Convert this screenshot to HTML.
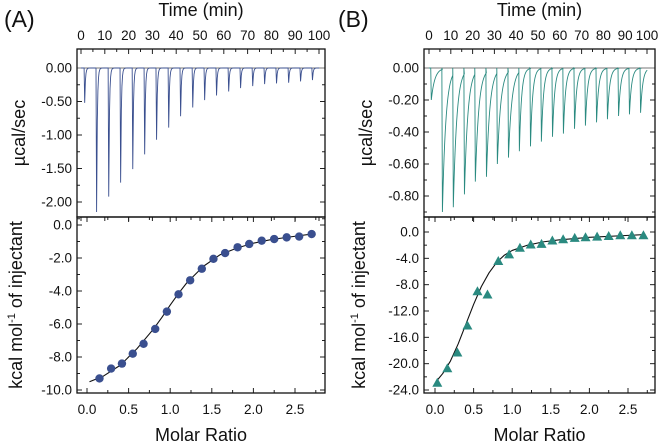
<!DOCTYPE html>
<html><head><meta charset="utf-8">
<style>
html,body{margin:0;padding:0;background:#fff;width:661px;height:447px;overflow:hidden}
svg text{font-family:"Liberation Sans",sans-serif;fill:#111}
</style></head>
<body>
<svg id="c" width="661" height="447" viewBox="0 0 661 447" xmlns="http://www.w3.org/2000/svg"></svg>
<script>
// ----- Data -----
const timeTicks = [0,10,20,30,40,50,60,70,80,90,100];
const molarTicks = [0,0.5,1.0,1.5,2.0,2.5];
const injTimesA = [1.3,6.3,11.4,16.4,21.5,26.5,31.5,36.6,41.6,46.7,51.7,56.7,61.8,66.8,71.9,76.9,81.9,87.0,92.0,97.0];
const peakDepthA = [-0.52,-2.15,-1.92,-1.71,-1.51,-1.29,-1.07,-0.89,-0.72,-0.59,-0.48,-0.41,-0.35,-0.30,-0.27,-0.24,-0.23,-0.22,-0.20,-0.18];
const injTimesB = [0.8,5.9,10.9,16.0,21.0,26.1,31.1,36.2,41.2,46.3,51.3,56.4,61.4,66.5,71.5,76.6,81.6,86.7,91.7,96.8];
const peakDepthB = [-0.20,-0.90,-0.87,-0.79,-0.71,-0.68,-0.60,-0.56,-0.52,-0.49,-0.46,-0.43,-0.41,-0.38,-0.36,-0.34,-0.32,-0.30,-0.29,-0.28];
const ratioA = [0.15,0.29,0.42,0.55,0.68,0.82,0.96,1.10,1.24,1.38,1.52,1.66,1.81,1.95,2.10,2.25,2.40,2.55,2.70];
const heatA = [-9.3,-8.7,-8.4,-7.8,-7.2,-6.3,-5.25,-4.2,-3.35,-2.65,-2.05,-1.7,-1.35,-1.15,-0.95,-0.85,-0.75,-0.7,-0.55];
const fitXA = [0.03,0.2,0.4,0.6,0.8,0.9,1.0,1.1,1.2,1.4,1.6,1.8,2.0,2.2,2.4,2.7];
const fitYA = [-9.5,-9.15,-8.5,-7.5,-6.3,-5.6,-4.85,-4.15,-3.5,-2.5,-1.8,-1.4,-1.1,-0.9,-0.75,-0.55];
const ratioB = [0.03,0.16,0.29,0.42,0.55,0.68,0.82,0.96,1.10,1.24,1.38,1.52,1.66,1.81,1.95,2.10,2.25,2.40,2.55,2.70];
const heatB = [-22.9,-20.7,-18.3,-14.2,-9.0,-9.5,-4.4,-3.4,-2.4,-1.9,-1.8,-1.3,-1.1,-0.9,-0.8,-0.7,-0.6,-0.5,-0.5,-0.5];
const fitXB = [0.03,0.1,0.2,0.3,0.4,0.5,0.6,0.7,0.8,0.9,1.0,1.2,1.4,1.6,2.0,2.7];
const fitYB = [-22.5,-21.5,-19.6,-17.0,-14.0,-11.0,-8.3,-6.2,-4.6,-3.5,-2.8,-2.0,-1.5,-1.2,-0.8,-0.4];
const upTicksA = [0,-0.5,-1.0,-1.5,-2.0];
const upTicksB = [0,-0.2,-0.4,-0.6,-0.8];
const loTicksA = [0,-2,-4,-6,-8,-10];
const loTicksB = [0,-4,-8,-12,-16,-20,-24];

const svg = document.getElementById('c');
const NS = 'http://www.w3.org/2000/svg';
function mk(tag, attrs, parent){const e=document.createElementNS(NS,tag);for(const k in attrs)e.setAttribute(k,attrs[k]);(parent||svg).appendChild(e);return e;}
function lin(d0,d1,r0,r1){return v=>r0+(v-d0)*(r1-r0)/(d1-d0);}

function panel(P){
  const g = mk('g',{});
  
  
  const lab = mk('text',{x:P.labX,y:27,'font-size':23},g); lab.textContent='('+P.id.toUpperCase()+')';
   
  const tt = mk('text',{x:(P.L+P.R)/2,y:16,'font-size':18,'text-anchor':'middle'},g); tt.textContent='Time (min)';
   
  const tx = lin(0,100,P.t0,P.t100);
  const yu = lin(0,P.uMin,68,P.uMinPx);
  timeTicks.forEach((t,i)=>{
    const x=tx(t);
    const tl = mk('text',{x:x,y:40,'font-size':13.5,'text-anchor':'middle'},g); tl.textContent=t;
     
    mk('line',{x1:x,x2:x,y1:P.T,y2:P.T+5,stroke:'#222'},g);
    if(i<timeTicks.length-1){const xm=tx(t+5);mk('line',{x1:xm,x2:xm,y1:P.T,y2:P.T+3,stroke:'#222'},g);}
    mk('line',{x1:x,x2:x,y1:P.M,y2:P.M+4,stroke:'#222'},g);
  });
  P.upTicks.forEach((v,i)=>{
    const y=yu(v);
    const l=mk('text',{x:P.L-5,y:y+4.5,'font-size':13.5,'text-anchor':'end'},g); l.textContent=v.toFixed(2);
     
    mk('line',{x1:P.L,x2:P.L+5,y1:y,y2:y,stroke:'#222'},g);
    mk('line',{x1:P.R,x2:P.R-5,y1:y,y2:y,stroke:'#222'},g);
    const ym=yu(v+(P.upTicks[1]-P.upTicks[0])/2);
    mk('line',{x1:P.L,x2:P.L+3,y1:ym,y2:ym,stroke:'#222'},g);
    mk('line',{x1:P.R,x2:P.R-3,y1:ym,y2:ym,stroke:'#222'},g);
  });
  const yt=mk('text',{transform:`translate(${P.L-52},${(P.T+P.M)/2}) rotate(-90)`,'font-size':18,'text-anchor':'middle'},g); yt.textContent='µcal/sec';
   
  mk('line',{x1:P.L,x2:P.R,y1:yu(0),y2:yu(0),stroke:'#777','stroke-width':1},g);
  let d='M'+tx(0)+','+yu(0);
  P.times.forEach((t,i)=>{
    const dep=P.depths[i];
    const next = i<P.times.length-1?P.times[i+1]:100;
    d+=' L'+tx(t)+','+yu(0)+' L'+tx(t+0.25)+','+yu(dep);
    const tau=P.tau(i);
    for(let s=0.3;s<=next-t;s+=0.25){
      d+=' L'+tx(t+0.25+s)+','+yu(dep*Math.exp(-s/tau));
    }
  });
  const th=mk('path',{d:d,fill:'none',stroke:P.color,'stroke-width':0.9},g);
   
  const xm=lin(0,2.5,P.m0,P.m25);
  const yl=lin(0,P.lMin,P.l0,P.lMinPx);
  molarTicks.forEach(v=>{
    const x=xm(v);
    const l=mk('text',{x:x,y:P.B+21,'font-size':13.5,'text-anchor':'middle'},g); l.textContent=v.toFixed(1);
     
    mk('line',{x1:x,x2:x,y1:P.B,y2:P.B-5,stroke:'#222'},g);
    mk('line',{x1:x,x2:x,y1:P.M,y2:P.M+5,stroke:'#222'},g);
    const x2=xm(v+0.25);
    if(x2<P.R){mk('line',{x1:x2,x2:x2,y1:P.B,y2:P.B-3,stroke:'#222'},g);mk('line',{x1:x2,x2:x2,y1:P.M,y2:P.M+3,stroke:'#222'},g);}
  });
  P.loTicks.forEach(v=>{
    const y=yl(v);
    const l=mk('text',{x:P.L-5,y:y+4.5,'font-size':13.5,'text-anchor':'end'},g); l.textContent=v.toFixed(1);
     
    mk('line',{x1:P.L,x2:P.L+5,y1:y,y2:y,stroke:'#222'},g);
    mk('line',{x1:P.R,x2:P.R-5,y1:y,y2:y,stroke:'#222'},g);
    const ym=yl(v+(P.loTicks[1]-P.loTicks[0])/2);
    if(ym<P.B){mk('line',{x1:P.L,x2:P.L+3,y1:ym,y2:ym,stroke:'#222'},g);mk('line',{x1:P.R,x2:P.R-3,y1:ym,y2:ym,stroke:'#222'},g);}
  });
  const mt=mk('text',{x:(P.L+P.R)/2,y:441,'font-size':18,'text-anchor':'middle'},g); mt.textContent='Molar Ratio';
   
  const lt=mk('text',{transform:`translate(${P.ltX},${(P.M+P.B)/2}) rotate(-90)`,'font-size':18,'text-anchor':'middle'},g);
  lt.innerHTML='kcal mol<tspan dy="-7" font-size="11">-1</tspan><tspan dy="7"> of injectant</tspan>';
   
  let fd='';
  P.fitX.forEach((x,i)=>{fd+=(i?' L':'M')+xm(x)+','+yl(P.fitY[i]);});
  const fp=mk('path',{d:fd,fill:'none',stroke:'#111','stroke-width':1.1,'stroke-linejoin':'round'},g);
   
  P.rx.forEach((x,i)=>{
    const cx=xm(x), cy=yl(P.hy[i]);
    let m;
    if(P.tri) m=mk('polygon',{points:`${cx},${cy-5} ${cx-5},${cy+4} ${cx+5},${cy+4}`,fill:P.color},g);
    else m=mk('circle',{cx:cx,cy:cy,r:4.2,fill:P.color},g);
     
  });
  mk('rect',{x:P.L,y:P.T,width:P.R-P.L,height:P.M-P.T,fill:'none',stroke:'#111','stroke-width':1.3},g);
  mk('rect',{x:P.L,y:P.M,width:P.R-P.L,height:P.B-P.M,fill:'none',stroke:'#111','stroke-width':1.3},g);
}

panel({id:'a',labX:4,L:77,R:325,T:49,M:217,B:393,t0:81,t100:319,uMin:-2,uMinPx:202,upTicks:upTicksA,
  times:injTimesA,depths:peakDepthA,tau:i=>0.3,color:'#3a4f8f',
  m0:87,m25:295,l0:225,lMin:-10,lMinPx:390,loTicks:loTicksA,fitX:fitXA,fitY:fitYA,rx:ratioA,hy:heatA,tri:false,ltX:22});
panel({id:'b',labX:338,L:424,R:655,T:49,M:217,B:393,t0:429,t100:647,uMin:-0.8,uMinPx:196,upTicks:upTicksB,
  times:injTimesB,depths:peakDepthB,tau:i=>i<8?1.6:1.0,color:'#2a8a80',
  m0:435,m25:628,l0:232,lMin:-24,lMinPx:390,loTicks:loTicksB,fitX:fitXB,fitY:fitYB,rx:ratioB,hy:heatB,tri:true,ltX:365});
</script>
</body></html>
